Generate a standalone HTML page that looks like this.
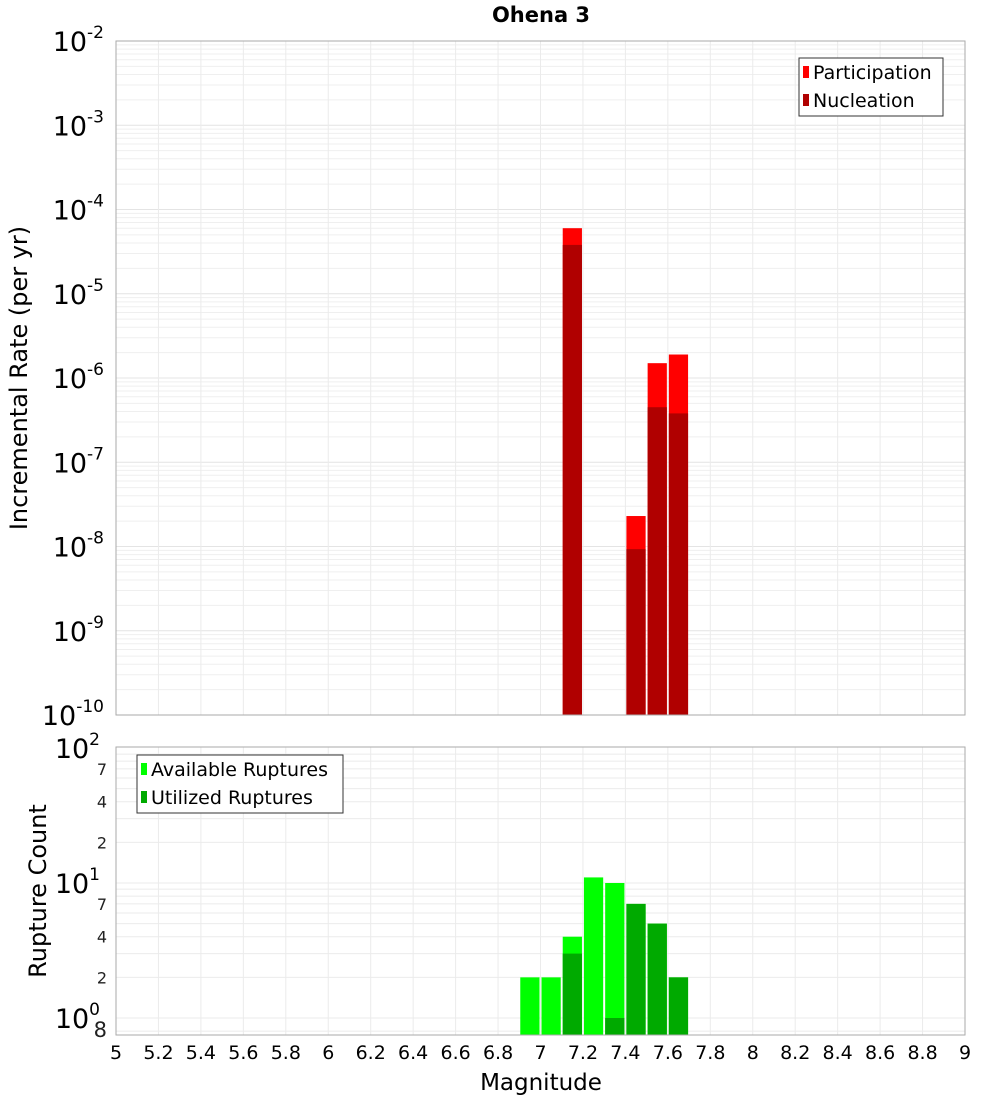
<!DOCTYPE html>
<html><head><meta charset="utf-8"><style>
body{margin:0;background:#fff;font-family:"Liberation Sans","DejaVu Sans",sans-serif}
svg text{font-family:"DejaVu Sans","Liberation Sans",sans-serif}
</style></head><body>
<svg id="c" width="1000" height="1100" xmlns="http://www.w3.org/2000/svg">
<rect width="1000" height="1100" fill="#fff"/>
<text x="541" y="22" font-size="21" font-weight="bold" text-anchor="middle">Ohena 3</text>
<text transform="translate(27,378) rotate(-90)" font-size="24" text-anchor="middle">Incremental Rate (per yr)</text>
<text transform="translate(46,891) rotate(-90)" font-size="24" text-anchor="middle">Rupture Count</text>
<text x="541" y="1090" font-size="23" text-anchor="middle">Magnitude</text>
<g id="g"></g>
</svg>
<script>
const mags = [7.15, 7.45, 7.55, 7.65];
const participation = [6e-5, 2.3e-8, 1.5e-6, 1.9e-6];
const nucleation = [3.8e-5, 9.3e-9, 4.5e-7, 3.8e-7];
const countMags = [6.95, 7.05, 7.15, 7.25, 7.35, 7.45, 7.55, 7.65];
const available = [2, 2, 4, 11, 10, 7, 5, 2];
const utilized = [0, 0, 3, 0, 1, 7, 5, 2];
const xTicks = [5,5.2,5.4,5.6,5.8,6,6.2,6.4,6.6,6.8,7,7.2,7.4,7.6,7.8,8,8.2,8.4,8.6,8.8,9];
const topExps = [-10,-9,-8,-7,-6,-5,-4,-3,-2];

const NS='http://www.w3.org/2000/svg';
const g=document.getElementById('g');
function el(t,a,p){const e=document.createElementNS(NS,t);for(const k in a)e.setAttribute(k,a[k]);(p||g).appendChild(e);return e;}
const L=116,R=965;
const xs=m=>L+(m-5)*(R-L)/4;
const T1=41,B1=715;
const y1=v=>B1-(Math.log10(v)+10)*(B1-T1)/8;
const T2=747,B2=1035;
const y2=v=>1018-135*Math.log10(v);

for(let e=-10;e<-2;e++)for(let k=1;k<10;k++){const yy=y1(k*Math.pow(10,e));
 const ln=el('line',{x1:L,x2:R,y1:yy,y2:yy,stroke:k==1?'#e4e4e4':'#efefef','stroke-width':1});
 }
xTicks.forEach(m=>{const ln=el('line',{x1:xs(m),x2:xs(m),y1:T1,y2:B1,stroke:'#ebebeb'});
 });
for(let e=0;e<2;e++)for(let k=1;k<10;k++){const yy=y2(k*Math.pow(10,e));
 const ln=el('line',{x1:L,x2:R,y1:yy,y2:yy,stroke:'#ebebeb'});
 }
{const yy=y2(0.8);const ln=el('line',{x1:L,x2:R,y1:yy,y2:yy,stroke:'#ebebeb'});}
xTicks.forEach(m=>{const ln=el('line',{x1:xs(m),x2:xs(m),y1:T2,y2:B2,stroke:'#ebebeb'});
 });

const bw=(R-L)*0.1/4;
mags.forEach((m,i)=>{
 const x=xs(m)-bw/2+1;
 const a=el('rect',{x:x,y:y1(participation[i]),width:bw-2,height:B1-y1(participation[i]),fill:'#ff0000'});
 
 const b=el('rect',{x:x,y:y1(nucleation[i]),width:bw-2,height:B1-y1(nucleation[i]),fill:'#b00000'});
 
});
countMags.forEach((m,i)=>{
 const x=xs(m)-bw/2+1;
 if(available[i]>0){const a=el('rect',{x:x,y:y2(available[i]),width:bw-2,height:B2-y2(available[i]),fill:'#00ff00'});
 }
 if(utilized[i]>0){const b=el('rect',{x:x,y:y2(utilized[i]),width:bw-2,height:B2-y2(utilized[i]),fill:'#00aa00'});
 }
});
let f=el('rect',{x:L,y:T1,width:R-L,height:B1-T1,fill:'none',stroke:'#aaa'});
f=el('rect',{x:L,y:T2,width:R-L,height:B2-T2,fill:'none',stroke:'#aaa'});

topExps.forEach(e=>{const t=el('text',{x:104,y:y1(Math.pow(10,e))+10,'font-size':27,'text-anchor':'end'});
 
 t.textContent='10';const s=el('tspan',{dy:-13,'font-size':17},t);s.textContent=String(e);});
[[100,'2'],[10,'1'],[1,'0']].forEach(([v,e])=>{const t=el('text',{x:100,y:y2(v)+10,'font-size':27,'text-anchor':'end'});
 
 t.textContent='10';const s=el('tspan',{dy:-13,'font-size':17},t);s.textContent=e;});
[[70,'7'],[40,'4'],[20,'2'],[7,'7'],[4,'4'],[2,'2'],[0.8,'8']].forEach(([v,s])=>{
 const t=el('text',{x:107,y:y2(v)+6,'font-size':(v<1?21:16),'text-anchor':'end',fill:'#222'});
 t.textContent=s;});
xTicks.forEach(m=>{const t=el('text',{x:xs(m),y:1059,'font-size':19,'text-anchor':'middle'});
 
 t.textContent=(Math.round(m*10)/10).toString();});

function legend(x,y,w,items,name){const lg=el('g',{});
 el('rect',{x:x,y:y,width:w,height:58,fill:'#fff',stroke:'#333'},lg);
 items.forEach((it,i)=>{el('rect',{x:x+4,y:y+8+i*28,width:6,height:12,fill:it[1]},lg);
  const t=el('text',{x:x+14,y:y+21+i*28,'font-size':19},lg);t.textContent=it[0];});}
legend(799,58,144,[['Participation','#ff0000'],['Nucleation','#b00000']],'top-legend');
legend(137,755,206,[['Available Ruptures','#00ff00'],['Utilized Ruptures','#00aa00']],'bottom-legend');
</script>
</body></html>
